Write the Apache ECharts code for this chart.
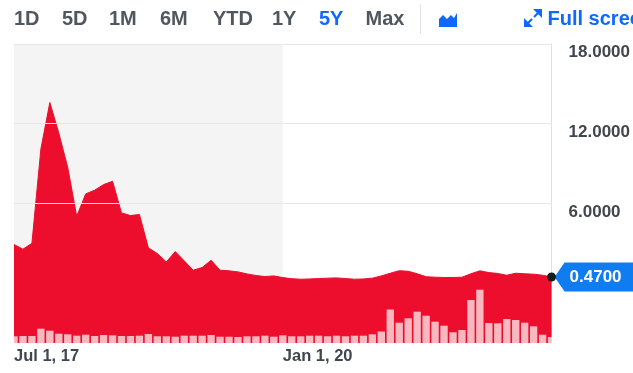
<!DOCTYPE html>
<html><head><meta charset="utf-8">
<script src="https://cdn.jsdelivr.net/npm/echarts@6/dist/echarts.min.js"></script>
<style>html,body{margin:0;padding:0;background:#fff;overflow:hidden}#c{width:633px;height:373px}</style>
</head><body><div id="c"></div>
<script>
// ---- data ----
const categories = [
 'Jul 17','Aug 17','Sep 17','Oct 17','Nov 17','Dec 17',
 'Jan 18','Feb 18','Mar 18','Apr 18','May 18','Jun 18','Jul 18','Aug 18','Sep 18','Oct 18','Nov 18','Dec 18',
 'Jan 19','Feb 19','Mar 19','Apr 19','May 19','Jun 19','Jul 19','Aug 19','Sep 19','Oct 19','Nov 19','Dec 19',
 'Jan 20','Feb 20','Mar 20','Apr 20','May 20','Jun 20','Jul 20','Aug 20','Sep 20','Oct 20','Nov 20','Dec 20',
 'Jan 21','Feb 21','Mar 21','Apr 21','May 21','Jun 21','Jul 21','Aug 21','Sep 21','Oct 21','Nov 21','Dec 21',
 'Jan 22','Feb 22','Mar 22','Apr 22','May 22','Jun 22','Jul 22'
];
const priceValues = [
 2.91, 2.56, 3.00, 10.1, 13.6, 11.3, 8.70, 5.04, 6.72, 7.00,
 7.42, 7.67, 5.29, 5.09, 5.17, 2.66, 2.23, 1.60, 2.38, 1.68,
 0.98, 1.18, 1.73, 0.98, 0.93, 0.85, 0.70, 0.58, 0.50, 0.55,
 0.42, 0.34, 0.30, 0.32, 0.35, 0.38, 0.40, 0.35, 0.30, 0.32,
 0.38, 0.55, 0.75, 0.94, 0.90, 0.71, 0.49, 0.45, 0.43, 0.43,
 0.45, 0.71, 0.93, 0.80, 0.73, 0.60, 0.75, 0.71, 0.68, 0.60, 0.47
];
const volumeValues = [
 6.7, 7.0, 7.0, 14.3, 12.3, 9.3, 8.7, 7.3, 8.3, 7.0,
 8.0, 7.7, 7.0, 7.0, 7.3, 9.0, 6.7, 6.7, 6.3, 7.3,
 7.3, 7.3, 8.0, 6.3, 6.3, 6.0, 6.7, 6.7, 7.3, 6.3,
 7.7, 6.7, 6.7, 7.3, 7.3, 6.7, 7.3, 6.7, 7.3, 7.3,
 8.7, 11.5, 33.5, 20.3, 24.7, 31.3, 27.3, 21.3, 17.3, 10.7,
 13.0, 43.0, 53.3, 20.0, 19.7, 24.0, 23.0, 20.3, 16.7, 8.3, 6.0
];
const yTickValues = [6, 12, 18];
const xLabelIndex = [0, 30];
const xLabelText = ['Jul 1, 17', 'Jan 1, 20'];
const shadedRange = ['Jul 17', 'Jan 20'];
const lastPriceText = '0.4700';
const rangeButtons = ['1D', '5D', '1M', '6M', 'YTD', '1Y', '5Y', 'Max'];
const activeRange = '5Y';
const fullScreenText = 'Full screen';

// ---- styling ----
const RED = '#ec0e2c';
const BLUE = '#0f69ff';
const TAG = '#0f7cf2';
const FONT = '"Liberation Sans", Arial, sans-serif';
const buttonX = [14, 62, 109, 160, 213, 272, 319, 365.5];

const chart = echarts.init(document.getElementById('c'), null, {renderer: 'canvas'});

const graphics = rangeButtons.map((t, i) => ({
  type: 'text', x: buttonX[i], y: 19, silent: true,
  style: {text: t, fill: t === activeRange ? BLUE : '#50575e',
    font: 'bold 20px ' + FONT, verticalAlign: 'middle', align: 'left'}
}));
graphics.push(
  {type: 'line', silent: true, shape: {x1: 420.5, y1: 4, x2: 420.5, y2: 34}, style: {stroke: '#e0e4e9', lineWidth: 1}},
  {type: 'polygon', silent: true, shape: {points: [[439,27],[439,19],[443,15],[447,19],[451,15],[454,18],[457,13],[457,27]]}, style: {fill: BLUE}},
  {type: 'polygon', silent: true, shape: {points: [[533,9],[542,9],[542,18]]}, style: {fill: BLUE}},
  {type: 'polygon', silent: true, shape: {points: [[524,18],[524,27],[533,27]]}, style: {fill: BLUE}},
  {type: 'line', silent: true, shape: {x1: 539, y1: 12, x2: 534, y2: 17}, style: {stroke: BLUE, lineWidth: 2.2}},
  {type: 'line', silent: true, shape: {x1: 527, y1: 24, x2: 532, y2: 19}, style: {stroke: BLUE, lineWidth: 2.2}},
  {type: 'text', x: 547.5, y: 19, silent: true, style: {text: fullScreenText, fill: BLUE, font: 'bold 20px ' + FONT, verticalAlign: 'middle', align: 'left'}}
);

const labelColor = '#3f464d';
const option = {
  animation: false,
  backgroundColor: '#ffffff',
  grid: {left: 14, right: 81, top: 44, bottom: 30, containLabel: false},
  graphic: graphics,
  xAxis: {
    type: 'category', data: categories, boundaryGap: false,
    axisLine: {show: false}, axisTick: {show: false}, splitLine: {show: false},
    axisLabel: {
      interval: (idx) => xLabelIndex.includes(idx),
      margin: 5, align: 'left', color: labelColor, fontSize: 16.5, fontWeight: 'bold', fontFamily: FONT,
      formatter: (v, idx) => {
        const k = xLabelIndex.indexOf(idx);
        return k < 0 ? '' : xLabelText[k];
      }
    }
  },
  yAxis: [{
    type: 'value', position: 'right', min: -4.5, max: 18, interval: 1.5,
    axisLine: {show: true, lineStyle: {color: '#dde1e6'}}, axisTick: {show: false},
    splitLine: {show: false},
    axisLabel: {
      margin: 17, align: 'left', verticalAlign: 'top', padding: [0, 0, 0, 0],
      color: labelColor, fontSize: 17, fontWeight: 'bold', fontFamily: FONT,
      formatter: (v) => yTickValues.some(t => Math.abs(t - v) < 1e-6) ? v.toFixed(4) : ''
    }
  }, {
    type: 'value', min: 0, max: 299, show: false
  }],
  series: [{
    type: 'line', z: 1, data: categories.map(() => '-'), silent: true,
    markArea: {silent: true, itemStyle: {color: '#f4f4f4'}, data: [[{xAxis: shadedRange[0]}, {xAxis: shadedRange[1]}]]},
    markLine: {silent: true, symbol: 'none', label: {show: false},
      lineStyle: {color: '#e6e6e6', type: 'solid', width: 1},
      data: yTickValues.map(v => ({yAxis: v}))}
  }, {
    type: 'line', z: 2, data: priceValues, showSymbol: false, symbol: 'none',
    lineStyle: {color: RED, width: 1}, itemStyle: {color: RED},
    areaStyle: {color: RED, opacity: 1, origin: 'start'}
  }, {
    type: 'bar', z: 3, yAxisIndex: 1, data: volumeValues, barWidth: '82%',
    itemStyle: {color: 'rgba(255,255,255,0.7)'}
  }, {
    type: 'line', z: 5, data: categories.map(() => '-'), silent: true,
    markPoint: {silent: true, data: [
      {coord: [categories[categories.length - 1], priceValues[priceValues.length - 1]],
       symbol: 'path://M0,15 L10,0 L80,0 L80,30 L10,30 Z', symbolSize: [80, 29], symbolOffset: [43, 0],
       itemStyle: {color: TAG},
       label: {show: true, formatter: lastPriceText, color: '#fff', fontSize: 17, fontWeight: 'bold', fontFamily: FONT, offset: [1, 0]}},
      {coord: [categories[categories.length - 1], priceValues[priceValues.length - 1]],
       symbol: 'circle', symbolSize: 9, itemStyle: {color: '#1b1b1b'}, label: {show: false}}
    ]}
  }]
};
chart.setOption(option);
</script></body></html>
